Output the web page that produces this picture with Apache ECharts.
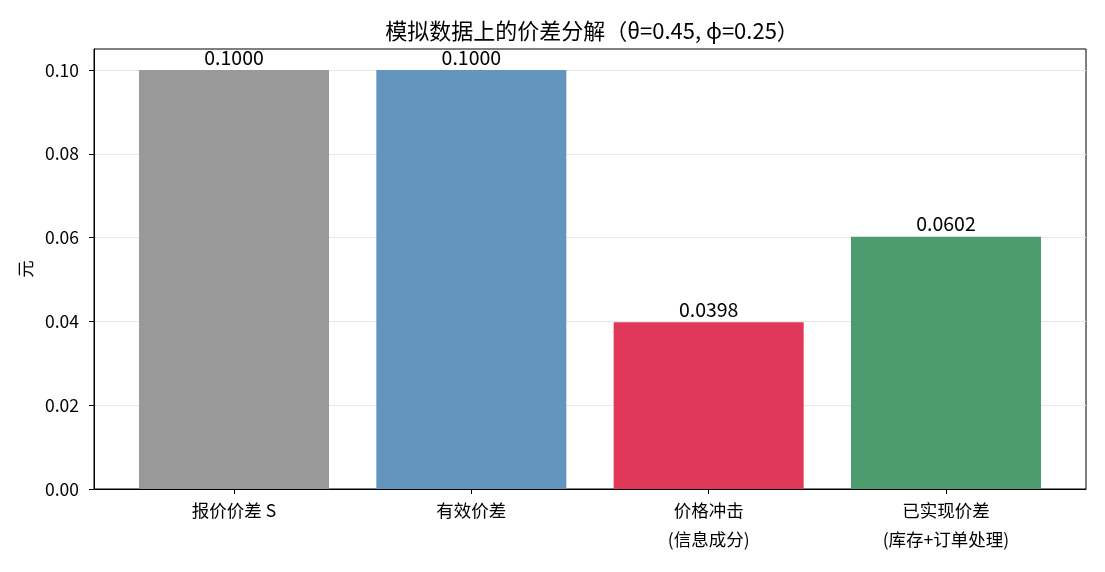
<!DOCTYPE html>
<html>
<head>
<meta charset="utf-8">
<script src="https://cdn.jsdelivr.net/npm/echarts@6/dist/echarts.min.js"></script>
<style>
  html, body { margin: 0; padding: 0; background: #fff; }
  #chart { width: 1105px; height: 572px; }
</style>
</head>
<body>
<div id="chart"></div>
<script>
// 价差分解数据
const categories = ['报价价差 S', '有效价差', '价格冲击\n(信息成分)', '已实现价差\n(库存+订单处理)']
const values = [0.1000, 0.1000, 0.0398, 0.0602]
const barColors = ['#999999', '#6395bf', '#e13759', '#4d9c70']
const yTicks = [0, 0.02, 0.04, 0.06, 0.08, 0.10]
const xPositions = [0, 1, 2, 3]

const FONT = '"Noto Sans CJK SC", "Noto Sans", sans-serif'

const chart = echarts.init(document.getElementById('chart'))

const option = {
  animation: false,
  textStyle: { fontFamily: FONT },
  title: {
    text: '模拟数据上的价差分解（θ=0.45, ϕ=0.25）',
    left: 587,
    textAlign: 'center',
    top: 15,
    textStyle: { fontFamily: FONT, fontSize: 22, fontWeight: 'normal', color: '#000' }
  },
  grid: {
    left: 94,
    right: 19,
    top: 49,
    bottom: 83,
    show: true,
    borderColor: '#000',
    borderWidth: 1
  },
  xAxis: {
    type: 'value',
    min: -0.59,
    max: 3.59,
    axisLine: { show: true, onZero: false, lineStyle: { color: '#000' } },
    axisTick: { show: true, customValues: xPositions, length: 5, lineStyle: { color: '#000' } },
    axisLabel: {
      customValues: xPositions,
      formatter: v => categories[Math.round(v)],
      color: '#000',
      fontSize: 17.5,
      lineHeight: 29,
      margin: 7,
      fontFamily: FONT
    },
    splitLine: { show: false }
  },
  yAxis: {
    type: 'value',
    min: 0,
    max: 0.105,
    name: '元',
    nameLocation: 'middle',
    nameGap: 58,
    nameTextStyle: { color: '#000', fontSize: 17.5, fontFamily: FONT },
    axisLine: { show: true, onZero: false, lineStyle: { color: '#000' } },
    axisTick: { show: true, customValues: yTicks, length: 5, lineStyle: { color: '#000' } },
    axisLabel: {
      customValues: yTicks,
      formatter: v => v.toFixed(2),
      color: '#000',
      fontSize: 17.5,
      margin: 15,
      fontFamily: FONT
    },
    splitLine: { show: true, lineStyle: { color: '#e8e8e8', width: 1 } }
  },
  series: [{
    type: 'bar',
    barWidth: 190,
    data: values.map((v, i) => ({
      value: [xPositions[i], v],
      itemStyle: { color: barColors[i] }
    })),
    label: {
      show: true,
      position: 'top',
      distance: 3,
      formatter: p => p.value[1].toFixed(4),
      color: '#000',
      fontSize: 19.5,
      fontFamily: FONT
    }
  }]
}

chart.setOption(option)
</script>
</body>
</html>
